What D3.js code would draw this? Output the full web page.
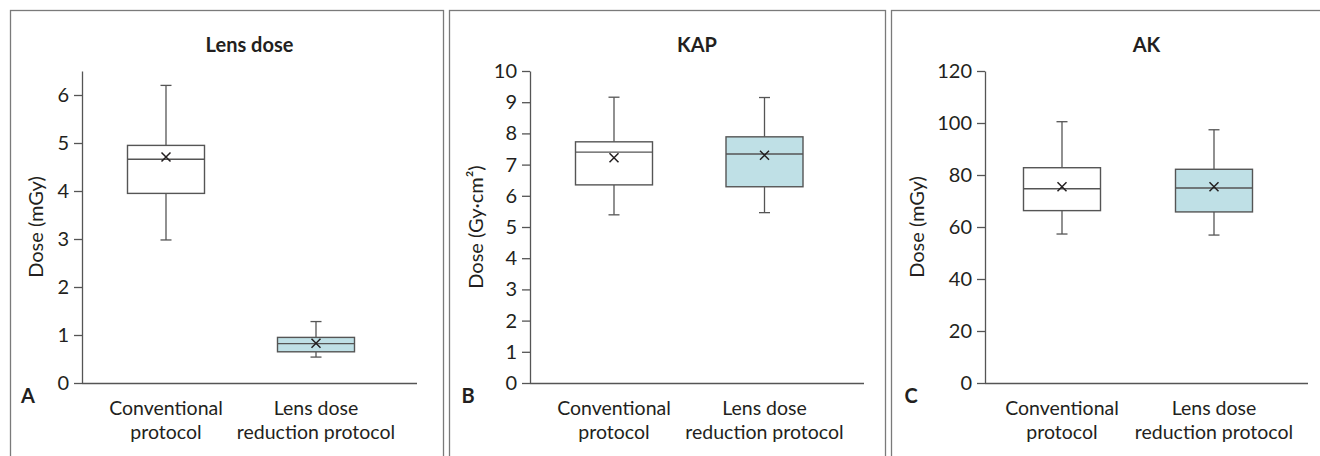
<!DOCTYPE html>
<html>
<head>
<meta charset="utf-8">
<script src="https://cdn.jsdelivr.net/npm/d3@7"></script>
<style>
  html, body { margin: 0; padding: 0; background: #fff; }
  svg { display: block; }
  text { font-family: Lato, "Liberation Sans", sans-serif; fill: #231f20; }
</style>
</head>
<body>
<svg id="chart" width="1320" height="456"></svg>
<script>
// ---------- data ----------
const categories = ["Conventional protocol", "Lens dose reduction protocol"];
const categoryLines = [["Conventional", "protocol"], ["Lens dose", "reduction protocol"]];
const panelTitles = ["Lens dose", "KAP", "AK"];
const panelLetters = ["A", "B", "C"];
const yAxisTitles = ["Dose (mGy)", "Dose (Gy\u00B7cm\u00B2)", "Dose (mGy)"];
const yDomainMax = [6.5, 10, 120];
const yTicksA = [0, 1, 2, 3, 4, 5, 6];
const yTicksB = [0, 1, 2, 3, 4, 5, 6, 7, 8, 9, 10];
const yTicksC = [0, 20, 40, 60, 80, 100, 120];
// box statistics per category: [min, q1, median, q3, max, mean]
const lensDoseStats = [[2.98, 3.95, 4.66, 4.95, 6.20, 4.71], [0.54, 0.65, 0.82, 0.95, 1.28, 0.83]];
const kapStats      = [[5.39, 6.35, 7.40, 7.73, 9.16, 7.22], [5.46, 6.29, 7.34, 7.89, 9.15, 7.30]];
const akStats       = [[57.3, 66.3, 74.7, 82.8, 100.5, 75.5], [56.9, 65.8, 75.0, 82.2, 97.4, 75.5]];
const fillColors = ["#ffffff", "#bfe0e6"];

// ---------- layout ----------
const panels = [
  { box: [10, 10, 433, 470], axisX: 82, axisEnd: 417, c: [84, 234], ylabX: 36, letterX: 28, stats: lensDoseStats, ticks: yTicksA },
  { box: [449, 10, 436, 470], axisX: 530, axisEnd: 864, c: [84, 234.5], ylabX: 476, letterX: 468, stats: kapStats, ticks: yTicksB },
  { box: [891, 10, 440, 470], axisX: 985, axisEnd: 1308, c: [77, 229], ylabX: 917, letterX: 911, stats: akStats, ticks: yTicksC }
];
const yTop = 71, yBottom = 383, boxW = 77, capW = 11;

const svg = d3.select("#chart");

panels.forEach((p, i) => {
  const g = svg.append("g");
  g.append("rect")
    .attr("x", p.box[0] + 0.5).attr("y", p.box[1] + 0.5)
    .attr("width", p.box[2]).attr("height", p.box[3])
    .attr("fill", "none").attr("stroke", "#7a7a7a").attr("stroke-width", 1.3);

  const y = d3.scaleLinear().domain([0, yDomainMax[i]]).range([yBottom, yTop]);
  const x = d3.scalePoint().domain(categories).range([p.axisX + p.c[0], p.axisX + p.c[1]]);

  // y axis
  const yAxis = d3.axisLeft(y).tickValues(p.ticks).tickSize(8).tickSizeOuter(0).tickPadding(5)
    .tickFormat(d3.format("d"));
  const ya = g.append("g").attr("transform", `translate(${p.axisX},0)`).call(yAxis);
  ya.select(".domain").attr("stroke", "#555").attr("stroke-width", 1.3);
  ya.selectAll(".tick line").attr("stroke", "#555").attr("stroke-width", 1.3);
  ya.selectAll(".tick text").style("font-size", "20px").attr("fill", "#231f20");

  // x axis baseline
  const xa = d3.axisBottom(x).tickSize(0).tickFormat("");
  const xg = g.append("g").attr("transform", `translate(0,${yBottom})`).call(xa);
  xg.select(".domain").attr("d", `M${p.axisX},0.5H${p.axisEnd}`).attr("stroke", "#555").attr("stroke-width", 1.3);

  // category labels
  categories.forEach((cat, k) => {
    const t = g.append("text").attr("text-anchor", "middle").style("font-size", "19.5px");
    categoryLines[k].forEach((ln, j) => {
      t.append("tspan").attr("x", x(cat)).attr("y", 415 + j * 24).text(ln);
    });
  });

  // title
  g.append("text").attr("x", (p.axisX + p.axisEnd) / 2).attr("y", 52)
    .attr("text-anchor", "middle").style("font-size", "20px").style("font-weight", "bold")
    .text(panelTitles[i]);

  // panel letter
  g.append("text").attr("x", p.letterX).attr("y", 403)
    .attr("text-anchor", "middle").style("font-size", "20px").style("font-weight", "bold")
    .text(panelLetters[i]);

  // y axis title
  g.append("text")
    .attr("transform", `translate(${p.ylabX},${(yTop + yBottom) / 2}) rotate(-90)`)
    .attr("text-anchor", "middle").attr("dy", "0.35em").style("font-size", "20px")
    .text(yAxisTitles[i]);

  // boxes
  categories.forEach((cat, k) => {
    const s = p.stats[k];
    const cx = x(cat);
    const bg = g.append("g");
    // whiskers
    bg.append("line").attr("x1", cx).attr("x2", cx).attr("y1", y(s[4])).attr("y2", y(s[3]))
      .attr("stroke", "#555").attr("stroke-width", 1.3);
    bg.append("line").attr("x1", cx).attr("x2", cx).attr("y1", y(s[1])).attr("y2", y(s[0]))
      .attr("stroke", "#555").attr("stroke-width", 1.3);
    [s[0], s[4]].forEach(v => {
      bg.append("line").attr("x1", cx - capW / 2).attr("x2", cx + capW / 2).attr("y1", y(v)).attr("y2", y(v))
        .attr("stroke", "#555").attr("stroke-width", 1.3);
    });
    // box
    bg.append("rect").attr("x", cx - boxW / 2).attr("y", y(s[3]))
      .attr("width", boxW).attr("height", y(s[1]) - y(s[3]))
      .attr("fill", fillColors[k]).attr("stroke", "#555").attr("stroke-width", 1.4);
    // median
    bg.append("line").attr("x1", cx - boxW / 2).attr("x2", cx + boxW / 2).attr("y1", y(s[2])).attr("y2", y(s[2]))
      .attr("stroke", "#555").attr("stroke-width", 1.4);
    // mean marker
    const my = y(s[5]), r = 4.5;
    bg.append("path").attr("d", `M${cx - r},${my - r}L${cx + r},${my + r}M${cx + r},${my - r}L${cx - r},${my + r}`)
      .attr("stroke", "#231f20").attr("stroke-width", 1.5).attr("fill", "none");
  });
});
</script>
</body>
</html>
